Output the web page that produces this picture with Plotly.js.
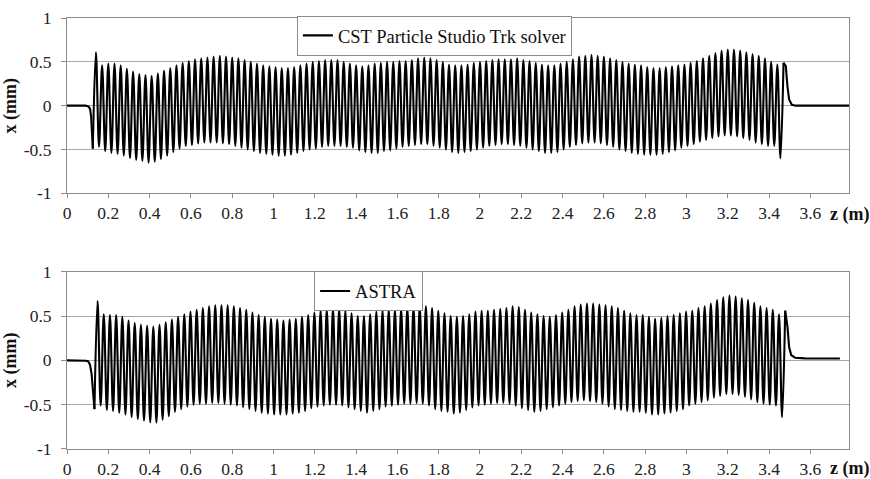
<!DOCTYPE html>
<html>
<head>
<meta charset="utf-8">
<script src="https://cdn.plot.ly/plotly-3.0.1.min.js"></script>
<style>
  html, body { margin: 0; padding: 0; background: #ffffff; }
  #chart { width: 870px; height: 479px; }
</style>
</head>
<body>
<div id="chart"></div>
<script>
// ---------------- data ----------------
// Series names
const seriesNames = ["CST Particle Studio Trk solver", "ASTRA"];

// x-axis ticks (z, m)
const zTickVals = [0, 0.2, 0.4, 0.6, 0.8, 1, 1.2, 1.4, 1.6, 1.8, 2, 2.2, 2.4, 2.6, 2.8, 3, 3.2, 3.4, 3.6];
const zTickText = ["0", "0.2", "0.4", "0.6", "0.8", "1", "1.2", "1.4", "1.6", "1.8", "2", "2.2", "2.4", "2.6", "2.8", "3", "3.2", "3.4", "3.6"];
// y-axis ticks (x, mm)
const xTickVals = [-1, -0.5, 0, 0.5, 1];
const xTickText = ["-1", "-0.5", "0", "0.5", "1"];

// Undulator oscillation: first extremum position and half-period spacing (m)
const cstFirstZ = 0.125;
const astraFirstZ = 0.133;
const halfPeriod = 0.015;

// CST: entrance part (before first trough)
const cstInZ = [0, 0.09, 0.105, 0.112, 0.117, 0.121, 0.125];
const cstInX = [0, 0, -0.01, -0.04, -0.13, -0.30, -0.49];
// CST: successive troughs and peaks (mm)
const cstTroughs = [
  -0.49,-0.47,-0.52,-0.54,-0.55,-0.57,-0.60,-0.62,-0.63,-0.65,
  -0.64,-0.61,-0.57,-0.53,-0.49,-0.46,-0.45,-0.43,-0.42,-0.42,
  -0.42,-0.43,-0.44,-0.46,-0.48,-0.50,-0.52,-0.54,-0.55,-0.56,
  -0.57,-0.57,-0.56,-0.54,-0.52,-0.50,-0.49,-0.47,-0.46,-0.46,
  -0.46,-0.47,-0.48,-0.51,-0.53,-0.54,-0.54,-0.52,-0.51,-0.49,
  -0.47,-0.46,-0.45,-0.44,-0.44,-0.46,-0.48,-0.50,-0.53,-0.54,
  -0.53,-0.52,-0.50,-0.48,-0.46,-0.45,-0.44,-0.44,-0.45,-0.46,
  -0.48,-0.50,-0.52,-0.54,-0.54,-0.53,-0.50,-0.47,-0.45,-0.43,
  -0.42,-0.42,-0.43,-0.45,-0.47,-0.50,-0.52,-0.54,-0.55,-0.56,
  -0.56,-0.56,-0.55,-0.53,-0.51,-0.48,-0.46,-0.44,-0.41,-0.39,
  -0.37,-0.35,-0.34,-0.34,-0.35,-0.37,-0.39,-0.42,-0.44,-0.46,
  -0.46,-0.60];
const cstPeaks = [
  0.61,0.46,0.48,0.48,0.46,0.42,0.39,0.36,0.35,0.34,
  0.37,0.40,0.43,0.46,0.49,0.51,0.53,0.54,0.55,0.56,
  0.57,0.56,0.55,0.54,0.52,0.50,0.48,0.46,0.45,0.44,
  0.43,0.43,0.44,0.46,0.48,0.50,0.51,0.52,0.52,0.52,
  0.50,0.48,0.46,0.45,0.46,0.48,0.49,0.50,0.50,0.51,
  0.51,0.52,0.54,0.55,0.54,0.52,0.50,0.47,0.46,0.46,
  0.47,0.49,0.50,0.51,0.52,0.53,0.53,0.53,0.54,0.52,
  0.51,0.49,0.47,0.46,0.46,0.48,0.50,0.53,0.56,0.57,
  0.58,0.57,0.56,0.54,0.52,0.50,0.48,0.47,0.46,0.44,
  0.43,0.43,0.44,0.45,0.46,0.47,0.49,0.51,0.54,0.57,
  0.60,0.63,0.64,0.64,0.63,0.61,0.59,0.57,0.54,0.50,
  0.47,0.49];
// CST: exit part (after last peak)
const cstOutZ = [3.47, 3.481, 3.489, 3.497, 3.51, 3.53, 3.787];
const cstOutX = [0.49, 0.45, 0.22, 0.07, 0.01, 0, 0];

// ASTRA: entrance part
const astraInZ = [0, 0.06, 0.09, 0.102, 0.111, 0.119, 0.127, 0.133];
const astraInX = [0, 0, -0.005, -0.01, -0.045, -0.15, -0.38, -0.55];
// ASTRA: successive troughs and peaks (mm)
const astraTroughs = [
  -0.55,-0.51,-0.56,-0.57,-0.59,-0.61,-0.64,-0.66,-0.68,-0.70,
  -0.70,-0.67,-0.63,-0.58,-0.55,-0.52,-0.50,-0.49,-0.49,-0.48,
  -0.48,-0.49,-0.50,-0.51,-0.53,-0.55,-0.57,-0.59,-0.60,-0.61,
  -0.61,-0.61,-0.60,-0.59,-0.57,-0.54,-0.52,-0.51,-0.50,-0.50,
  -0.51,-0.53,-0.55,-0.57,-0.59,-0.57,-0.55,-0.52,-0.51,-0.50,
  -0.49,-0.49,-0.48,-0.49,-0.51,-0.55,-0.57,-0.58,-0.60,-0.59,
  -0.56,-0.53,-0.51,-0.50,-0.49,-0.48,-0.48,-0.49,-0.51,-0.54,
  -0.56,-0.58,-0.57,-0.55,-0.53,-0.51,-0.49,-0.47,-0.46,-0.45,
  -0.46,-0.47,-0.49,-0.52,-0.55,-0.56,-0.57,-0.58,-0.58,-0.59,
  -0.61,-0.61,-0.60,-0.59,-0.57,-0.55,-0.51,-0.49,-0.47,-0.45,
  -0.42,-0.40,-0.38,-0.38,-0.39,-0.41,-0.44,-0.47,-0.49,-0.50,
  -0.51,-0.64];
const astraPeaks = [
  0.67,0.52,0.51,0.51,0.49,0.45,0.42,0.40,0.39,0.38,
  0.40,0.43,0.46,0.49,0.52,0.55,0.57,0.59,0.61,0.62,
  0.62,0.62,0.61,0.59,0.57,0.54,0.51,0.49,0.47,0.46,
  0.45,0.46,0.47,0.49,0.51,0.54,0.56,0.57,0.58,0.58,
  0.56,0.53,0.50,0.50,0.52,0.55,0.56,0.57,0.57,0.58,
  0.59,0.60,0.61,0.61,0.59,0.56,0.53,0.50,0.49,0.50,
  0.52,0.55,0.56,0.56,0.57,0.58,0.59,0.61,0.60,0.57,
  0.54,0.52,0.50,0.49,0.51,0.54,0.57,0.61,0.63,0.64,
  0.64,0.63,0.62,0.61,0.59,0.56,0.53,0.51,0.51,0.49,
  0.47,0.48,0.50,0.51,0.53,0.55,0.56,0.59,0.61,0.64,
  0.68,0.71,0.73,0.72,0.70,0.68,0.65,0.61,0.59,0.57,
  0.52,0.56];
// ASTRA: exit part
const astraOutZ = [3.478, 3.489, 3.497, 3.507, 3.526, 3.574, 3.743];
const astraOutX = [0.56, 0.38, 0.15, 0.06, 0.03, 0.022, 0.02];

// ---------------- build ----------------
function interleave(troughs, peaks) {
  const out = [];
  for (let i = 0; i < peaks.length; i++) { out.push(troughs[i]); out.push(peaks[i]); }
  return out;
}

const SERIF = "Liberation Serif";
const lineStyle = { color: "#000000", width: 2.1 };

function panel(xa, ya, leg, name, inZ, inX, first, troughs, peaks, outZ, outX) {
  return [
    { type: "scatter", mode: "lines", x: inZ, y: inX, xaxis: xa, yaxis: ya,
      line: lineStyle, showlegend: false, hoverinfo: "skip", legend: leg },
    { type: "scatter", mode: "lines", x0: first, dx: halfPeriod, y: interleave(troughs, peaks),
      xaxis: xa, yaxis: ya, name: name, legend: leg,
      line: Object.assign({ shape: "spline", smoothing: 1.0 }, lineStyle), showlegend: true },
    { type: "scatter", mode: "lines", x: outZ, y: outX, xaxis: xa, yaxis: ya,
      line: lineStyle, showlegend: false, hoverinfo: "skip", legend: leg }
  ];
}

const data = [].concat(
  panel("x", "y", "legend", seriesNames[0], cstInZ, cstInX, cstFirstZ, cstTroughs, cstPeaks, cstOutZ, cstOutX),
  panel("x2", "y2", "legend2", seriesNames[1], astraInZ, astraInX, astraFirstZ, astraTroughs, astraPeaks, astraOutZ, astraOutX)
);

const frameColor = "#8c8c8c";
function xAxis(anchor) {
  return {
    anchor: anchor, domain: [0, 1], range: [0, 3.787],
    tickmode: "array", tickvals: zTickVals, ticktext: zTickText,
    showgrid: false, zeroline: false,
    showline: true, mirror: true, linecolor: frameColor, linewidth: 1,
    ticks: "outside", ticklen: 4, tickcolor: frameColor, tickwidth: 1,
    tickfont: { family: SERIF, size: 17.5, color: "#222222" }
  };
}
function yAxis(anchor, domain) {
  return {
    anchor: anchor, domain: domain, range: [-1, 1],
    tickmode: "array", tickvals: xTickVals, ticktext: xTickText,
    showgrid: true, gridcolor: "#a8a8a8", gridwidth: 1, zeroline: false,
    showline: true, mirror: true, linecolor: frameColor, linewidth: 1,
    ticks: "outside", ticklen: 5, tickcolor: frameColor, tickwidth: 1,
    ticklabelstandoff: 6,
    tickfont: { family: SERIF, size: 17.5, color: "#222222" },
    title: { text: "<b>x (mm)</b>", font: { family: SERIF, size: 18, color: "#111111" }, standoff: 3 }
  };
}

const legendBase = {
  xanchor: "left", yanchor: "top",
  bgcolor: "#ffffff", bordercolor: "#8c8c8c", borderwidth: 1,
  font: { family: SERIF, size: 18.5, color: "#111111" },
  itemwidth: 30, tracegroupgap: 0
};

const layout = {
  width: 870, height: 479,
  margin: { l: 67, r: 21, t: 18, b: 30, pad: 0 },
  paper_bgcolor: "#ffffff", plot_bgcolor: "#ffffff",
  showlegend: true,
  xaxis: xAxis("y"),
  yaxis: yAxis("x", [0.5932, 1]),
  xaxis2: xAxis("y2"),
  yaxis2: yAxis("x2", [0, 0.4114]),
  legend: Object.assign({ x: 0.294, y: 1.005 }, legendBase),
  legend2: Object.assign({ x: 0.316, y: 0.412 }, legendBase),
  annotations: [
    { text: "<b>z (m)</b>", xref: "paper", yref: "paper", x: 1.0, y: 0.545,
      xanchor: "center", yanchor: "middle", showarrow: false,
      font: { family: SERIF, size: 18, color: "#111111" } },
    { text: "<b>z (m)</b>", xref: "paper", yref: "paper", x: 1.0, y: -0.046,
      xanchor: "center", yanchor: "middle", showarrow: false,
      font: { family: SERIF, size: 18, color: "#111111" } }
  ]
};

Plotly.newPlot("chart", data, layout, { displayModeBar: false, staticPlot: true });
</script>
</body>
</html>
